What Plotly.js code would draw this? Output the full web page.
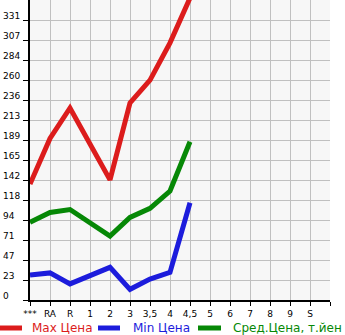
<!DOCTYPE html>
<html><head><meta charset="utf-8">
<script src="https://cdn.plot.ly/plotly-3.0.1.min.js"></script>
<style>html,body{margin:0;padding:0;background:#fff}#chart{width:345px;height:335px}</style>
</head><body><div id="chart"></div>
<script>
var categories = ["***","RA","R","1","2","3","3,5","4","4,5","5","6","7","8","9","S"];
var maxPrice = [137, 191, 227, 184, 142, 233, 260, 304, 357];
var minPrice = [29.5, 32, 19, 28.7, 38.6, 12.6, 24.8, 32.7, 115];
var avgPrice = [92, 103.5, 107, 91, 75.6, 97.7, 108.4, 128.8, 187];
var yTickLabels = ["0","23","47","71","94","118","142","165","189","213","236","260","284","307","331"];
var seriesNames = ["Max Цена","Min Цена","Сред.Цена, т.йен"];
var colors = ["#dc1c1c","#1c1cdc","#068806"];

var step = 331/14;
var yTickVals = yTickLabels.map(function(_, i){ return i*step; });
var xIdx = function(arr){ return arr.map(function(_, i){ return i; }); };

function tr(vals, c){
  return {x: xIdx(vals), y: vals, type:'scatter', mode:'lines', showlegend:false,
    line:{color:c, width:5}, hoverinfo:'skip'};
}
var data = [tr(maxPrice, colors[0]), tr(minPrice, colors[1]), tr(avgPrice, colors[2])];

var annotations = yTickLabels.map(function(t, i){
  return {xref:'paper', yref:'y', x:-29/300, y:yTickVals[i], xanchor:'left', yanchor:'middle',
    yshift:4, text:t, showarrow:false, font:{family:'DejaVu Sans', size:9, color:'#000'}};
});
var shapes = [];
var legX = [[0,22,30],[98,120,131],[198,221,231]];
legX.forEach(function(p, i){
  shapes.push({type:'line', xref:'paper', yref:'paper', x0:(p[0]-30)/300, x1:(p[1]-30)/300,
    y0:-28/300, y1:-28/300, line:{color:colors[i], width:5}});
  annotations.push({xref:'paper', yref:'paper', x:(p[2]-30)/300, y:-28/300, xanchor:'left', yanchor:'middle',
    text:seriesNames[i], showarrow:false, font:{family:'DejaVu Sans', size:12, color:colors[i]}});
});

var xTickVals = categories.map(function(_, i){ return i; }).concat([15]);
var xTickText = categories.concat([""]);

var layout = {
  width:345, height:335,
  margin:{l:30, r:15, t:0, b:35, pad:0},
  paper_bgcolor:'#ffffff', plot_bgcolor:'#f7f7f7',
  xaxis:{range:[0,15], tickvals:xTickVals, ticktext:xTickText, showgrid:true, gridcolor:'#c0c0c0', gridwidth:1,
    zeroline:false, showline:true, linecolor:'#000', linewidth:2, ticks:'outside', ticklen:4, tickcolor:'#000',
    tickfont:{family:'DejaVu Sans', size:9, color:'#000'}, fixedrange:true},
  yaxis:{range:[0,15*step], tickvals:yTickVals, showticklabels:false, showgrid:true,
    gridcolor:'#c0c0c0', gridwidth:1, zeroline:false, showline:true, linecolor:'#000', linewidth:2,
    ticks:'outside', ticklen:5, tickcolor:'#000', fixedrange:true},
  annotations:annotations, shapes:shapes, showlegend:false
};
Plotly.newPlot('chart', data, layout, {staticPlot:true});
</script></body></html>
